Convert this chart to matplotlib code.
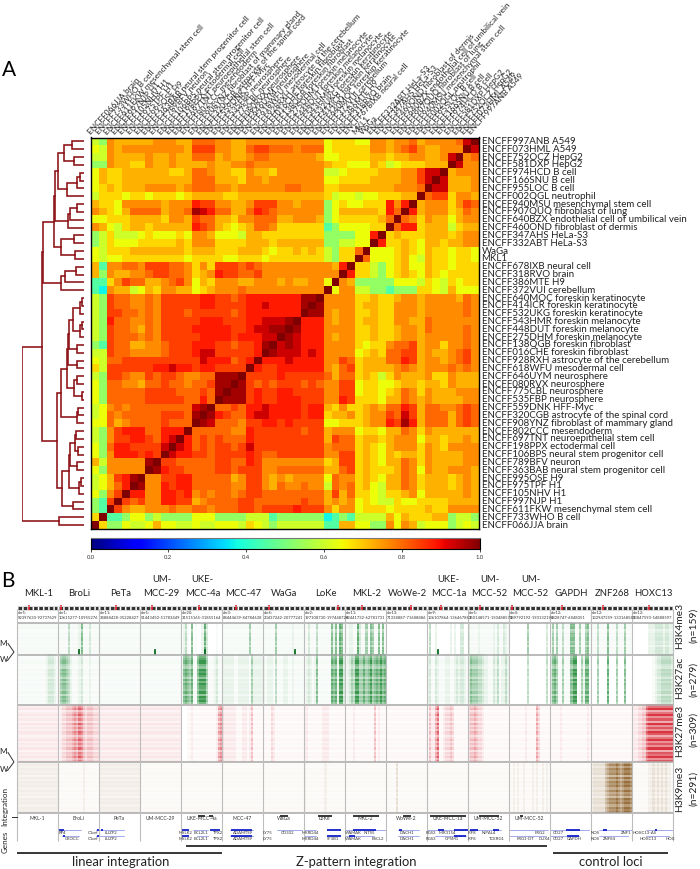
import numpy as np
import matplotlib
matplotlib.use('Agg')
import matplotlib.pyplot as plt
from matplotlib.colors import LinearSegmentedColormap

plt.rcParams['font.family'] = ['Lato', 'DejaVu Sans']

# panel A, rows from top to bottom
row_labels = ['ENCFF997ANB A549', 'ENCFF073HML A549', 'ENCFF752OCZ HepG2', 'ENCFF581DXP HepG2',
              'ENCFF974HCD B cell', 'ENCFF166SNU B cell', 'ENCFF955LOC B cell', 'ENCFF002QGL neutrophil',
              'ENCFF940MSU mesenchymal stem cell', 'ENCFF907QUQ fibroblast of lung',
              'ENCFF640BZX endothelial cell of umbilical vein', 'ENCFF460OND fibroblast of dermis',
              'ENCFF347AHS HeLa-S3', 'ENCFF332ABT HeLa-S3', 'WaGa', 'MKL1', 'ENCFF678IXB neural cell',
              'ENCFF318RVO brain', 'ENCFF386MTE H9', 'ENCFF372VUI cerebellum',
              'ENCFF640MOC foreskin keratinocyte', 'ENCFF414ICR foreskin keratinocyte',
              'ENCFF532UKG foreskin keratinocyte', 'ENCFF543HMR foreskin melanocyte',
              'ENCFF448DUT foreskin melanocyte', 'ENCFF275DHM foreskin melanocyte',
              'ENCFF138QGB foreskin fibroblast', 'ENCFF016CHE foreskin fibroblast',
              'ENCFF928RXH astrocyte of the cerebellum', 'ENCFF618WFU mesodermal cell',
              'ENCFF646UYM neurosphere', 'ENCFF080RVX neurosphere', 'ENCFF775CBL neurosphere',
              'ENCFF535FBP neurosphere', 'ENCFF559DNK HFF-Myc', 'ENCFF320CGB astrocyte of the spinal cord',
              'ENCFF908YNZ fibroblast of mammary gland', 'ENCFF802CCC mesendoderm',
              'ENCFF697TNT neuroepithelial stem cell', 'ENCFF198PPX ectodermal cell',
              'ENCFF106BPS neural stem progenitor cell', 'ENCFF789BFV neuron',
              'ENCFF363BAB neural stem progenitor cell', 'ENCFF995OSE H9', 'ENCFF975TPF H1',
              'ENCFF105NHV H1', 'ENCFF997NJP H1', 'ENCFF611FKW mesenchymal stem cell',
              'ENCFF733WHO B cell', 'ENCFF066JJA brain']

# correlation read by colour, one letter per cell, only the part up to the diagonal
level_values = dict(a=.37, b=.45, c=.53, d=.60, e=.64, f=.68, g=.72, h=.76, i=.80, j=.84, k=.88, l=.93, m=.965, n=1.0)
corr_rows = [
    'dchggggghh' + 'hggiiihhgg' + 'hhhhhhhhhh' + 'efffeehhgh' + 'highhhhiln',
    'edhghhhhhh' + 'hhgjjjhhgg' + 'ijjiiihiii' + 'efffffhhgh' + 'ijhgghhhn',
    'ddhgggghgg' + 'hggiiighgg' + 'hiihhhhhhg' + 'eeffffggfg' + 'ghhgghln',
    'cchggffhgg' + 'hgggghgghh' + 'ihhhhhhhhh' + 'gffeeegfde' + 'fffgggn',
    'egffgggggg' + 'ffgiihggff' + 'hggfhhhhhh' + 'ddeffffggg' + 'hhjlln',
    'egffgggggg' + 'gggiiigggf' + 'hhghhhhhhh' + 'eeffffgggg' + 'hhjln',
    'efgfggghhh' + 'hghiiihhgh' + 'hhhhhiihhh' + 'ffgggggggh' + 'hhin',
    'dfffeffeff' + 'fefggggffg' + 'gggggggggg' + 'fdeedeefff' + 'ggn',
    'gffehhhhhg' + 'hhhkjjhhgg' + 'hjjjhhghhh' + 'cefeefffkh' + 'kn',
    'hgfegiiiig' + 'hhimlkiigg' + 'ikjihhhhhh' + 'cegggggfki' + 'n',
    'eefffggggf' + 'hhgjiiggfh' + 'hiiigghhhg' + 'cefffffgin',
    'hgedfggfgg' + 'gggkjigfef' + 'giihffffff' + 'bceeeeffn',
    'cdfdddefee' + 'efehhgeeed' + 'ggffffffff' + 'cccceekn',
    'cdfeeeffff' + 'fgfhhhffff' + 'gggfgggggg' + 'ccddeen',
    'edfffggggg' + 'ggfgggfffg' + 'ggfeffgfgf' + 'dcffin',
    'edeeffffff' + 'ffeffffeef' + 'ffefffffff' + 'dcffn',
    'gbhhiihjjj' + 'iihfhfjjji' + 'jihhhhhhhh' + 'hgkn',
    'gchgghhijj' + 'iihfghkjji' + 'ijhhhhhhhh' + 'hhn',
    'bbfhjiiggh' + 'ijhegfhhhg' + 'ghhhghgghh' + 'en',
    'bahggdegfh' + 'hggefghhhi' + 'hhhhhhhhhh' + 'n',
    'dcjiihhihj' + 'jjjjkkjjij' + 'kkkkkkkmmn',
    'dcjiihhihj' + 'jjjjkkjjjj' + 'kklkkkkmn',
    'dcjjiihihj' + 'jjijjjjjij' + 'kkkkkkkn',
    'dckiihhihj' + 'jjjjkkkjjj' + 'kklllmn',
    'dcjiihgihj' + 'jjjkkkkkjj' + 'kllmmn',
    'dcjiiihihj' + 'jjjjkkkkjk' + 'kklln',
    'cbjiigghhi' + 'jjjkkkjjij' + 'jkmn',
    'ddjiihhhhi' + 'jjjklljjjj' + 'jkn',
    'ediijjjjjj' + 'jjjjlkkkij' + 'kn',
    'fdjjjjjjkk' + 'lkkjkkjjjj' + 'n',
    'dcjjihhjij' + 'jihhiimmmn',
    'eciihhgiij' + 'iihiijmmn',
    'eciiiiijjj' + 'jiiijimn',
    'eciiiiijjj' + 'jjiikin',
    'dehihiiiii' + 'iiilmn',
    'deihiiiiij' + 'jjimn',
    'eeighiiiij' + 'iiin',
    'dchjkkkiik' + 'kkn',
    'dchjjkkjik' + 'ln',
    'ecikkjjjjl' + 'n',
    'echkkkjkjn',
    'gdhhhhhmn',
    'echhhhhn',
    'degjkmn',
    'degikn',
    'echjn',
    'cbjn',
    'cbn',
    'fn',
    'n',
]

# dendrogram merges: two children (leaf row or 50 + merge number) and distance
merges = [(0, 1, .19), (2, 3, .16), (50, 51, .32), (4, 5, .06), (53, 6, .11), (54, 7, .27), (52, 55, .42),
          (8, 9, .11), (57, 10, .23), (58, 11, .26), (56, 59, .47), (12, 13, .16), (14, 15, .15), (61, 62, .37),
          (60, 63, .48), (16, 17, .13), (65, 18, .31), (66, 19, .37), (64, 67, .66), (20, 21, .03), (69, 22, .06),
          (23, 24, .03), (71, 25, .06), (70, 72, .18), (26, 27, .11), (73, 74, .24), (28, 29, .11), (75, 76, .26),
          (30, 31, .11), (32, 33, .03), (78, 79, .16), (77, 80, .27), (34, 35, .10), (82, 36, .11), (81, 83, .37),
          (37, 38, .13), (39, 40, .10), (85, 86, .15), (41, 42, .11), (87, 88, .23), (43, 44, .05), (90, 45, .08),
          (89, 91, .24), (46, 47, .18), (92, 93, .35), (84, 94, .44), (68, 95, .68), (48, 49, .40), (96, 97, 1.0)]

# panel B
loci = ['MKL-1', 'BroLi', 'PeTa', 'UM-\nMCC-29', 'UKE-\nMCC-4a', 'MCC-47', 'WaGa', 'LoKe', 'MKL-2', 'WoWe-2',
        'UKE-\nMCC-1a', 'UM-\nMCC-52', 'UM-\nMCC-52', 'GAPDH', 'ZNF268', 'HOXC13']
regions = ['chr5:\n92397630-92737629', 'chr1:\n10615277-10955276', 'chr11:\n34888428-35228427',
           'chr5:\n51443450-51783449', 'chr20:\n31515165-31855164', 'chr3:\n84444639-84784638',
           'chr6:\n20437242-20777241', 'chr2:\n197108730-197448729', 'chr11:\n62441732-62781731',
           'chr13:\n71338887-71688886', 'chr9:\n136107864-136467863', 'chr5:\n150148571-150488570',
           'chr4:\n189792192-190132191', 'chr12:\n6428747-6848051', 'chr12:\n132947259-133168583',
           'chr12:\n53847593-54888597']
centromere = [.30, .08, .42, .30, .45, .35, .15, .82, .42, .62, .35, .30, .08, .30, .30, .42]
mods = ['H3K4me3', 'H3K27ac', 'H3K27me3', 'H3K9me3']
mod_n = ['(n=159)', '(n=279)', '(n=309)', '(n=291)']
mod_colors = ['#14842c', '#14842c', '#d2101e', '#86561a']

# column density of every locus panel, digit per bin, left to right
k4me3_cols = ['11111111111111111111', '11111411112611131111', '11111111111111111111', '11111111111111111111',
              '02410601002730000100', '11111111111115111111', '11111151111111211111', '11311141111116261761',
              '11221173115165116161', '00000000000000000000', '04002000000202003300', '31111211111121311321',
              '00000000050000000030', '15151141116611511561', '11141111611141115111', '00000000222333323322']
k27ac_cols = ['11111111111111233321', '25665421112311121111', '11111111111111111111', '11111111111111111111',
              '16765711688851112311', '22222211222221522222', '21222141112211211111', '12321261111117672883',
              '12354885575685676867', '00000000000000000000', '23113211122112323321', '36555443221132412242',
              '00000000040000000040', '36751151116880152771', '00050000700050006000', '00000000001233444443']
k27me3_cols = ['22222222222222222222', '12334445657643444333', '22222222222222222222', '22222222222222222222',
               '00011211111111111256', '32222221112212411111', '11113211111111111111', '22111111122211111111',
               '11112111111111412111', '11111111111111111111', '14225711233431111111', '34454332111111111111',
               '11111111211115311111', '11111211111111111121', '11111111111111111111', '22233447888888888888']
k9me3_cols = ['22222222222222222222', '11111111111121111111', '22222222222222222222', '11111111111111111111',
              '11111111111111111111', '11111111111111111111', '11111111111111111111', '21111111112111111111',
              '11111111111111111111', '11111311111111111111', '11111111111111111111', '11111111111111111111',
              '11212112111212112121', '11111111111111111111', '23333335677787678887', '11111111223232323221']
mod_cols = [k4me3_cols, k27ac_cols, k27me3_cols, k9me3_cols]
# how strong each mark is from top to bottom of a panel
mod_rows = ['98996798899789698989',
            '978997698986979887969897',
            '6795796859686985796869587968',
            '797989697989797869897989']
# short dark peaks at the foot of the H3K4me3 row: locus, place in locus
k4me3_peaks = [(1, .50), (3, .36), (6, .77), (10, .27), (4, .58)]

integration_names = ['MKL-1', 'BroLi', 'PeTa', 'UM-MCC-29', 'UKE-MCC-4a', 'MCC-47', 'WaGa', 'LoKe', 'MKL-2',
                     'WoWe-2', 'UKE-MCC-1a', 'UM-MCC-52', 'UM-MCC-52']
# integrated stretches: locus, start, end as part of the locus
integration_bars = [(4, .42, .58), (4, .68, .78), (6, .42, .60), (7, .34, .68), (8, .20, .84), (9, .42, .62),
                    (10, .08, .95), (11, .28, .76), (12, .28, .34)]
# gene models: locus, gene row, start, end
gene_lines = [(1, 0, .0, .55), (1, 0, .92, 1), (1, 1, .1, .5), (1, 1, .92, 1), (2, 0, .0, .6), (2, 1, .0, .6),
              (4, 0, .3, .65), (4, 1, .4, .65), (5, 0, .2, .75), (5, 1, .2, .75), (6, 0, .35, .95), (7, 0, 0, .3),
              (7, 1, 0, .3), (8, 0, 0, 1), (8, 1, 0, .7), (9, 0, .3, .8), (9, 1, .3, .8), (10, 0, 0, 1),
              (10, 1, .2, .95), (11, 0, 0, .8), (12, 0, 0, .95), (12, 1, 0, .9), (13, 0, 0, .95), (13, 1, .0, .7),
              (14, 0, .2, 1), (14, 1, .2, .9), (15, 0, .35, 1), (15, 1, .35, .9)]
gene_exons = [(1, 0, .02, .15), (1, 1, .12, .18), (1, 0, .95, 1), (1, 1, .95, 1), (2, 0, .05, .1), (4, 0, .02, .2),
              (4, 1, .02, .2), (4, 0, .7, .95), (5, 0, .22, .72), (5, 1, .22, .72), (7, 0, .55, .9), (7, 1, .55, .9),
              (8, 0, .2, .75), (8, 1, .1, .25), (9, 0, .32, .4), (10, 0, .28, .42), (10, 0, .65, 1), (10, 1, .65, .95),
              (11, 0, .05, .25), (11, 0, .6, .75), (13, 0, .4, .72), (13, 1, .42, .7), (14, 0, .3, .4), (15, 0, .55, .62)]
gene_names = [(1, 1, .35, 'CROCC'), (1, 0, .85, 'C1orf'), (1, 1, .85, 'C1orf'), (1, 0, .1, 'RP4'),
              (2, 0, .3, 'LUZP2'), (2, 1, .3, 'LUZP2'), (4, 0, .1, 'MYLK2'), (4, 1, .1, 'MYLK2'), (4, 0, .5, 'BCL2L1'),
              (4, 1, .5, 'BCL2L1'), (4, 0, .9, 'TPX2'), (4, 1, .9, 'TPX2'), (5, 0, .5, 'ADAMTS9'), (5, 1, .5, 'ADAMTS9'),
              (6, 0, .12, 'LY75'), (6, 1, .12, 'LY75'), (6, 0, .6, 'CD302'), (7, 0, .15, 'MKRD44'), (7, 1, .15, 'MKRD44'),
              (7, 1, .7, 'SF3B1'), (8, 0, .2, 'WAMAK'), (8, 1, .2, 'WAMAK'), (8, 0, .6, 'INTS5'), (8, 1, .8, 'BSCL2'),
              (9, 0, .5, 'DACH1'), (9, 1, .5, 'DACH1'), (10, 0, .1, 'RGS3'), (10, 1, .1, 'RGS3'), (10, 0, .5, 'MIR3154'),
              (10, 1, .6, 'GPSM1'), (11, 0, .1, 'IRF8'), (11, 1, .1, 'IRF8'), (11, 0, .5, 'NIPAL4'), (11, 1, .7, 'TCERG1'),
              (12, 1, .4, 'FRG1-DT'), (12, 0, .75, 'FRG2'), (12, 1, .86, 'DUX4'), (13, 0, .2, 'CD27'), (13, 1, .2, 'CD27'),
              (13, 1, .6, 'GAPDH'), (14, 0, .1, 'NOS'), (14, 1, .1, 'NOS'), (14, 1, .45, 'ZNF84'), (14, 0, .85, 'ZNF1'),
              (15, 0, .3, 'HOXC13-AS'), (15, 1, .4, 'HOXC13'), (15, 1, .93, 'HOX')]
groups = [('linear integration', 17, 222, 853), ('Z-pattern integration', 186, 547, 846), ('control loci', 553, 668, 853)]
group_text_x = [121, 356, 611]

FIG_W, FIG_H = 700, 869


def px_axes(fig, x0, y0, x1, y1):
    return fig.add_axes([x0 / FIG_W, 1 - y1 / FIG_H, (x1 - x0) / FIG_W, (y1 - y0) / FIG_H])


def build_matrix(rows):
    n = len(rows)
    mat = np.zeros((n, n))
    for r, text in enumerate(rows):
        if len(text) != n - r:
            raise ValueError('row %d has %d cells' % (r, len(text)))
        for c, ch in enumerate(text):
            mat[r, c] = level_values[ch]
            mat[n - 1 - c, n - 1 - r] = level_values[ch]
    return mat


def draw_dendrogram(ax, merges, n_leaves):
    place = {i: (i + .5, 0.0) for i in range(n_leaves)}
    for k, (a, b, dist) in enumerate(merges):
        ya, da = place[a]
        yb, db = place[b]
        ax.plot([da, dist, dist, db], [ya, ya, yb, yb], color='#8b1015', lw=1.15, solid_joinstyle='miter')
        place[n_leaves + k] = ((ya + yb) / 2, dist)


fig = plt.figure(figsize=(FIG_W / 100, FIG_H / 100), dpi=100)
page = fig.add_axes([0, 0, 1, 1])
page.set_xlim(0, FIG_W)
page.set_ylim(FIG_H, 0)
page.axis('off')

# ---- panel A
matrix = build_matrix(corr_rows)
n_cells = len(row_labels)
ax = px_axes(fig, 91, 137.5, 479, 529)
ax.imshow(matrix, cmap='jet', vmin=0, vmax=1, aspect='auto', interpolation='nearest')
ax.set_xticks([])
ax.set_yticks([])
for side in ax.spines.values():
    side.set_linewidth(1.0)

for r, name in enumerate(row_labels):
    page.text(481.5, 137.5 + (r + .5) * 7.83, name, fontsize=7.05, va='center', ha='left', color='#222222')
for c, name in enumerate(row_labels[::-1]):
    page.text(91 + c * 7.76 + 1, 135.5, name, fontsize=5.95, rotation=48, ha='left', va='bottom',
              rotation_mode='anchor', color='#222222')

den = px_axes(fig, 22, 137.5, 84, 529)
draw_dendrogram(den, merges, n_cells)
den.set_xlim(1, 0)
den.set_ylim(n_cells, 0)
den.axis('off')

cax = px_axes(fig, 90.5, 538, 480, 549)
cax.imshow(np.linspace(0, 1, 256).reshape(1, -1), cmap='jet', vmin=0, vmax=1, aspect='auto', extent=(0, 1, 0, 1))
cax.set_yticks([])
cax.set_xticks([0, .2, .4, .6, .8, 1.0])
cax.set_xticklabels(['0.0', '0.2', '0.4', '0.6', '0.8', '1.0'], fontsize=4.2, color='#333333')
cax.tick_params(length=2, width=.5, pad=2)
for side in cax.spines.values():
    side.set_linewidth(.8)
cax.spines['top'].set_color('#777777')

page.text(1.5, 69.5, 'A', fontsize=15, va='center', ha='left', color='black')
page.text(1.5, 581, 'B', fontsize=15, va='center', ha='left', color='black')

# ---- panel B
LEFT, COL_W = 17, 41
row_edges = [623, 655, 704.5, 762, 813]
white_cmaps = [LinearSegmentedColormap.from_list('m%d' % i, ['#ffffff', col]) for i, col in enumerate(mod_colors)]

for i, name in enumerate(loci):
    x0 = LEFT + i * COL_W
    x_mid = x0 + COL_W / 2 + 1
    lines = name.split('\n')
    if len(lines) == 2:
        page.text(x_mid, 580, lines[0], fontsize=6.8, ha='center', va='center', color='#222222')
    page.text(x_mid, 593, lines[-1], fontsize=6.8, ha='center', va='center', color='#222222')
    page.text(x0 + 1, 615.5, regions[i], fontsize=2.9, ha='left', va='center', color='#333333', linespacing=1.3)
    # chromosome strip
    page.plot([x0 + 1, x0 + COL_W - 1], [607.5, 607.5], color='#333333', lw=2.2, ls=(0, (1.2, .5)),
              solid_capstyle='butt')
    page.plot([x0 + COL_W * centromere[i]] * 2, [606, 609], color='#e8202a', lw=1.3)

    for m in range(4):
        col_profile = np.array([int(ch) for ch in mod_cols[m][i]]) / 9
        row_profile = np.array([int(ch) for ch in mod_rows[m]]) / 9
        density = np.outer(row_profile, col_profile)
        page.imshow(density ** 1.5, cmap=white_cmaps[m], vmin=0, vmax=1, aspect='auto', interpolation='nearest',
                    extent=(x0, x0 + COL_W, row_edges[m + 1], row_edges[m]))

for i, frac in k4me3_peaks:
    page.plot([LEFT + (i + frac) * COL_W] * 2, [649.5, 654], color='#0d6b22', lw=1.3)

for i, name in enumerate(integration_names):
    page.text(LEFT + (i + .5) * COL_W, 819, name, fontsize=3.6, ha='center', va='center', color='#333333')
for i, f0, f1 in integration_bars:
    page.plot([LEFT + (i + f0) * COL_W, LEFT + (i + f1) * COL_W], [816, 816], color='black', lw=1.1,
              solid_capstyle='butt')

gene_y = [830, 836]
for i, row, f0, f1 in gene_lines:
    page.plot([LEFT + (i + f0) * COL_W, LEFT + (i + f1) * COL_W], [gene_y[row]] * 2, color='#5a6be0', lw=.4)
for i, row, f0, f1 in gene_exons:
    page.plot([LEFT + (i + f0) * COL_W, LEFT + (i + f1) * COL_W], [gene_y[row]] * 2, color='#1420c8', lw=1.3,
              solid_capstyle='butt')
for i, row, frac, name in gene_names:
    page.text(LEFT + (i + frac) * COL_W, gene_y[row] + 3.2, name, fontsize=3.1, ha='center', va='center',
              color='#333333')

# panel grid
page.hlines(row_edges, LEFT, LEFT + 16 * COL_W, color='#a8a8a8', lw=1.1)
page.hlines([605.5, 609.5], LEFT, LEFT + 16 * COL_W, color='#c4c4c4', lw=.4)
page.vlines([LEFT + i * COL_W for i in range(17)], 609, 841, color='#bdbdbd', lw=.8)
page.plot([12, 17], [817, 817], color='#333333', lw=.7)

label_y = [626, 678, 731, 789]
n_y = [625, 679, 729, 788]
for m in range(4):
    page.text(680, label_y[m], mods[m], rotation=90, fontsize=7.4, ha='center', va='center', color='#222222')
    page.text(694, n_y[m], mod_n[m], rotation=90, fontsize=7.4, ha='center', va='center', color='#222222')

for y_m, y_mid, y_w in [(643, 652, 660), (752, 762, 770)]:
    page.text(3.5, y_m, 'M', fontsize=5.8, ha='center', va='center', color='#222222')
    page.text(3.5, y_w, 'W', fontsize=5.8, ha='center', va='center', color='#222222')
    page.plot([8, 14, 7.5], [y_m + .5, y_mid, y_w + .5], color='#333333', lw=.7)

page.text(5, 807, 'Integration', rotation=90, fontsize=5.8, ha='center', va='center', color='#222222')
page.text(5, 842, 'Genes', rotation=90, fontsize=5.8, ha='center', va='center', color='#222222')

for (name, x0, x1, y), tx in zip(groups, group_text_x):
    page.plot([x0, x1], [y, y], color='black', lw=1.1, solid_capstyle='butt')
    page.text(tx, 862, name, fontsize=9.4, ha='center', va='center', color='#222222')

page.set_xlim(0, FIG_W)
page.set_ylim(FIG_H, 0)
fig.savefig('out.png', dpi=100)
